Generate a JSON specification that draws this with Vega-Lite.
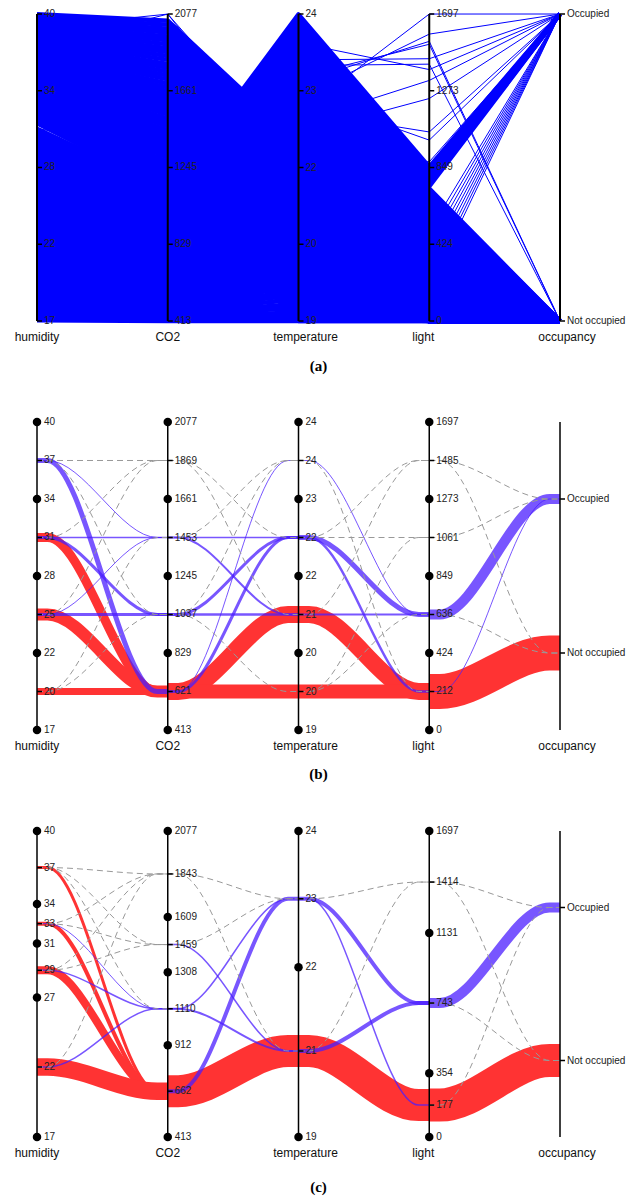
{
"$schema":"https://vega.github.io/schema/vega-lite/v6.json",
"autosize":{"type":"pad"},
"padding":{"left":2,"top":9,"right":2,"bottom":4},
"background":"white",
"config":{"view":{"stroke":null},"font":"Liberation Sans"},
"bounds":"flush",
"spacing":101,
"datasets":{
"scA":[{"key":"h","ax":0,"lo":16.745,"hi":39.5},{"key":"c","ax":1,"lo":412.75,"hi":2076.5},{"key":"t","ax":2,"lo":19,"hi":24.408},{"key":"l","ax":3,"lo":0,"hi":1697.25},{"key":"o","ax":4,"lo":0,"hi":1}],
"sc":[{"key":"h","ax":0,"lo":16.745,"hi":39.5,"name":"humidity"},{"key":"c","ax":1,"lo":412.75,"hi":2076.5,"name":"CO2"},{"key":"t","ax":2,"lo":19,"hi":24.408,"name":"temperature"},{"key":"l","ax":3,"lo":0,"hi":1697.25,"name":"light"},{"key":"o","ax":4,"lo":-0.5,"hi":1.5,"name":"occupancy"}],
"ticks":[
{"p":"a","ax":0,"v":16.745,"lab":"17","dot":false},{"p":"a","ax":0,"v":22.434,"lab":"22","dot":false},{"p":"a","ax":0,"v":28.123,"lab":"28","dot":false},{"p":"a","ax":0,"v":33.812,"lab":"34","dot":false},{"p":"a","ax":0,"v":39.5,"lab":"40","dot":false},
{"p":"a","ax":1,"v":412.75,"lab":"413","dot":false},{"p":"a","ax":1,"v":828.69,"lab":"829","dot":false},{"p":"a","ax":1,"v":1244.63,"lab":"1245","dot":false},{"p":"a","ax":1,"v":1660.56,"lab":"1661","dot":false},{"p":"a","ax":1,"v":2076.5,"lab":"2077","dot":false},
{"p":"a","ax":2,"v":19,"lab":"19","dot":false},{"p":"a","ax":2,"v":20.352,"lab":"20","dot":false},{"p":"a","ax":2,"v":21.704,"lab":"22","dot":false},{"p":"a","ax":2,"v":23.056,"lab":"23","dot":false},{"p":"a","ax":2,"v":24.408,"lab":"24","dot":false},
{"p":"a","ax":3,"v":0,"lab":"0","dot":false},{"p":"a","ax":3,"v":424.31,"lab":"424","dot":false},{"p":"a","ax":3,"v":848.63,"lab":"849","dot":false},{"p":"a","ax":3,"v":1272.94,"lab":"1273","dot":false},{"p":"a","ax":3,"v":1697.25,"lab":"1697","dot":false},
{"p":"a","ax":4,"v":1,"lab":"Occupied","dot":false},{"p":"a","ax":4,"v":0,"lab":"Not occupied","dot":false},
{"p":"b","ax":0,"v":16.745,"lab":"17","dot":true},{"p":"b","ax":0,"v":19.589,"lab":"20","dot":false},{"p":"b","ax":0,"v":22.434,"lab":"22","dot":true},{"p":"b","ax":0,"v":25.278,"lab":"25","dot":false},{"p":"b","ax":0,"v":28.123,"lab":"28","dot":true},{"p":"b","ax":0,"v":30.967,"lab":"31","dot":false},{"p":"b","ax":0,"v":33.812,"lab":"34","dot":true},{"p":"b","ax":0,"v":36.656,"lab":"37","dot":false},{"p":"b","ax":0,"v":39.5,"lab":"40","dot":true},
{"p":"b","ax":1,"v":412.75,"lab":"413","dot":true},{"p":"b","ax":1,"v":620.72,"lab":"621","dot":false},{"p":"b","ax":1,"v":828.69,"lab":"829","dot":true},{"p":"b","ax":1,"v":1036.66,"lab":"1037","dot":false},{"p":"b","ax":1,"v":1244.63,"lab":"1245","dot":true},{"p":"b","ax":1,"v":1452.59,"lab":"1453","dot":false},{"p":"b","ax":1,"v":1660.56,"lab":"1661","dot":true},{"p":"b","ax":1,"v":1868.53,"lab":"1869","dot":false},{"p":"b","ax":1,"v":2076.5,"lab":"2077","dot":true},
{"p":"b","ax":2,"v":19,"lab":"19","dot":true},{"p":"b","ax":2,"v":19.676,"lab":"20","dot":false},{"p":"b","ax":2,"v":20.352,"lab":"20","dot":true},{"p":"b","ax":2,"v":21.028,"lab":"21","dot":false},{"p":"b","ax":2,"v":21.704,"lab":"22","dot":true},{"p":"b","ax":2,"v":22.38,"lab":"22","dot":false},{"p":"b","ax":2,"v":23.056,"lab":"23","dot":true},{"p":"b","ax":2,"v":23.732,"lab":"24","dot":false},{"p":"b","ax":2,"v":24.408,"lab":"24","dot":true},
{"p":"b","ax":3,"v":0,"lab":"0","dot":true},{"p":"b","ax":3,"v":212.16,"lab":"212","dot":false},{"p":"b","ax":3,"v":424.31,"lab":"424","dot":true},{"p":"b","ax":3,"v":636.47,"lab":"636","dot":false},{"p":"b","ax":3,"v":848.63,"lab":"849","dot":true},{"p":"b","ax":3,"v":1060.78,"lab":"1061","dot":false},{"p":"b","ax":3,"v":1272.94,"lab":"1273","dot":true},{"p":"b","ax":3,"v":1485.09,"lab":"1485","dot":false},{"p":"b","ax":3,"v":1697.25,"lab":"1697","dot":true},
{"p":"b","ax":4,"v":1,"lab":"Occupied","dot":false},{"p":"b","ax":4,"v":0,"lab":"Not occupied","dot":false},
{"p":"c","ax":0,"v":16.745,"lab":"17","dot":true},{"p":"c","ax":0,"v":21.95,"lab":"22","dot":false},{"p":"c","ax":0,"v":27.11,"lab":"27","dot":true},{"p":"c","ax":0,"v":29.14,"lab":"29","dot":false},{"p":"c","ax":0,"v":31.13,"lab":"31","dot":true},{"p":"c","ax":0,"v":32.61,"lab":"33","dot":false},{"p":"c","ax":0,"v":34.07,"lab":"34","dot":true},{"p":"c","ax":0,"v":36.78,"lab":"37","dot":false},{"p":"c","ax":0,"v":39.5,"lab":"40","dot":true},
{"p":"c","ax":1,"v":412.75,"lab":"413","dot":true},{"p":"c","ax":1,"v":662,"lab":"662","dot":false},{"p":"c","ax":1,"v":912,"lab":"912","dot":true},{"p":"c","ax":1,"v":1110,"lab":"1110","dot":false},{"p":"c","ax":1,"v":1308,"lab":"1308","dot":true},{"p":"c","ax":1,"v":1459,"lab":"1459","dot":false},{"p":"c","ax":1,"v":1609,"lab":"1609","dot":true},{"p":"c","ax":1,"v":1843,"lab":"1843","dot":false},{"p":"c","ax":1,"v":2076.5,"lab":"2077","dot":true},
{"p":"c","ax":2,"v":19,"lab":"19","dot":true},{"p":"c","ax":2,"v":20.52,"lab":"21","dot":false},{"p":"c","ax":2,"v":22.0,"lab":"22","dot":true},{"p":"c","ax":2,"v":23.21,"lab":"23","dot":false},{"p":"c","ax":2,"v":24.408,"lab":"24","dot":true},
{"p":"c","ax":3,"v":0,"lab":"0","dot":true},{"p":"c","ax":3,"v":177,"lab":"177","dot":false},{"p":"c","ax":3,"v":354,"lab":"354","dot":true},{"p":"c","ax":3,"v":743,"lab":"743","dot":false},{"p":"c","ax":3,"v":1131,"lab":"1131","dot":true},{"p":"c","ax":3,"v":1414,"lab":"1414","dot":false},{"p":"c","ax":3,"v":1697.25,"lab":"1697","dot":true},
{"p":"c","ax":4,"v":1,"lab":"Occupied","dot":false},{"p":"c","ax":4,"v":0,"lab":"Not occupied","dot":false}
],
"flows":[
{"p":"b","a":0,"v0":36.656,"v1":620.72,"n":200,"k":"occ"},
{"p":"b","a":0,"v0":36.656,"v1":1452.59,"n":40,"k":"occ"},
{"p":"b","a":0,"v0":30.967,"v1":1036.66,"n":120,"k":"occ"},
{"p":"b","a":0,"v0":30.967,"v1":1452.59,"n":60,"k":"occ"},
{"p":"b","a":0,"v0":25.278,"v1":1036.66,"n":120,"k":"occ"},
{"p":"b","a":0,"v0":25.278,"v1":1452.59,"n":40,"k":"occ"},
{"p":"b","a":0,"v0":30.967,"v1":620.72,"n":360,"k":"not"},
{"p":"b","a":0,"v0":25.278,"v1":620.72,"n":480,"k":"not"},
{"p":"b","a":0,"v0":19.589,"v1":620.72,"n":280,"k":"not"},
{"p":"b","a":0,"v0":36.656,"v1":1868.53,"k":"other"},
{"p":"b","a":0,"v0":36.656,"v1":1036.66,"k":"other"},
{"p":"b","a":0,"v0":30.967,"v1":1868.53,"k":"other"},
{"p":"b","a":0,"v0":25.278,"v1":1868.53,"k":"other"},
{"p":"b","a":0,"v0":19.589,"v1":1452.59,"k":"other"},
{"p":"b","a":0,"v0":19.589,"v1":1036.66,"k":"other"},
{"p":"b","a":1,"v0":1452.59,"v1":22.38,"n":60,"k":"occ"},
{"p":"b","a":1,"v0":1452.59,"v1":21.028,"n":80,"k":"occ"},
{"p":"b","a":1,"v0":1036.66,"v1":22.38,"n":120,"k":"occ"},
{"p":"b","a":1,"v0":1036.66,"v1":21.028,"n":100,"k":"occ"},
{"p":"b","a":1,"v0":620.72,"v1":22.38,"n":120,"k":"occ"},
{"p":"b","a":1,"v0":620.72,"v1":23.732,"n":40,"k":"occ"},
{"p":"b","a":1,"v0":620.72,"v1":21.028,"n":680,"k":"not"},
{"p":"b","a":1,"v0":620.72,"v1":19.676,"n":560,"k":"not"},
{"p":"b","a":1,"v0":1868.53,"v1":22.38,"k":"other"},
{"p":"b","a":1,"v0":1868.53,"v1":21.028,"k":"other"},
{"p":"b","a":1,"v0":1452.59,"v1":23.732,"k":"other"},
{"p":"b","a":1,"v0":1036.66,"v1":23.732,"k":"other"},
{"p":"b","a":1,"v0":1036.66,"v1":19.676,"k":"other"},
{"p":"b","a":2,"v0":23.732,"v1":636.47,"n":40,"k":"occ"},
{"p":"b","a":2,"v0":22.38,"v1":636.47,"n":200,"k":"occ"},
{"p":"b","a":2,"v0":22.38,"v1":212.16,"n":100,"k":"occ"},
{"p":"b","a":2,"v0":21.028,"v1":636.47,"n":80,"k":"occ"},
{"p":"b","a":2,"v0":21.028,"v1":212.16,"n":680,"k":"not"},
{"p":"b","a":2,"v0":19.676,"v1":212.16,"n":560,"k":"not"},
{"p":"b","a":2,"v0":23.732,"v1":212.16,"k":"other"},
{"p":"b","a":2,"v0":22.38,"v1":1485.09,"k":"other"},
{"p":"b","a":2,"v0":22.38,"v1":1060.78,"k":"other"},
{"p":"b","a":2,"v0":21.028,"v1":1485.09,"k":"other"},
{"p":"b","a":2,"v0":19.676,"v1":1060.78,"k":"other"},
{"p":"b","a":2,"v0":19.676,"v1":636.47,"k":"other"},
{"p":"b","a":3,"v0":636.47,"v1":1,"n":400,"k":"occ"},
{"p":"b","a":3,"v0":212.16,"v1":1,"n":40,"k":"occ"},
{"p":"b","a":3,"v0":212.16,"v1":0,"n":1400,"k":"not"},
{"p":"b","a":3,"v0":1485.09,"v1":1,"k":"other"},
{"p":"b","a":3,"v0":1485.09,"v1":0,"k":"other"},
{"p":"b","a":3,"v0":1060.78,"v1":1,"k":"other"},
{"p":"b","a":3,"v0":636.47,"v1":0,"k":"other"},
{"p":"c","a":0,"v0":32.61,"v1":1110,"n":40,"k":"occ"},
{"p":"c","a":0,"v0":29.14,"v1":1110,"n":60,"k":"occ"},
{"p":"c","a":0,"v0":21.95,"v1":1110,"n":60,"k":"occ"},
{"p":"c","a":0,"v0":36.78,"v1":662,"n":120,"k":"not"},
{"p":"c","a":0,"v0":32.61,"v1":662,"n":160,"k":"not"},
{"p":"c","a":0,"v0":29.14,"v1":662,"n":320,"k":"not"},
{"p":"c","a":0,"v0":21.95,"v1":662,"n":700,"k":"not"},
{"p":"c","a":0,"v0":36.78,"v1":1843,"k":"other"},
{"p":"c","a":0,"v0":36.78,"v1":1459,"k":"other"},
{"p":"c","a":0,"v0":36.78,"v1":1110,"k":"other"},
{"p":"c","a":0,"v0":32.61,"v1":1843,"k":"other"},
{"p":"c","a":0,"v0":32.61,"v1":1459,"k":"other"},
{"p":"c","a":0,"v0":29.14,"v1":1843,"k":"other"},
{"p":"c","a":0,"v0":29.14,"v1":1459,"k":"other"},
{"p":"c","a":0,"v0":21.95,"v1":1843,"k":"other"},
{"p":"c","a":1,"v0":1459,"v1":20.52,"n":60,"k":"occ"},
{"p":"c","a":1,"v0":1110,"v1":23.21,"n":60,"k":"occ"},
{"p":"c","a":1,"v0":1110,"v1":20.52,"n":80,"k":"occ"},
{"p":"c","a":1,"v0":662,"v1":23.21,"n":160,"k":"occ"},
{"p":"c","a":1,"v0":662,"v1":20.52,"n":1280,"k":"not"},
{"p":"c","a":1,"v0":1843,"v1":23.21,"k":"other"},
{"p":"c","a":1,"v0":1843,"v1":20.52,"k":"other"},
{"p":"c","a":1,"v0":1459,"v1":23.21,"k":"other"},
{"p":"c","a":2,"v0":23.21,"v1":743,"n":160,"k":"occ"},
{"p":"c","a":2,"v0":23.21,"v1":177,"n":60,"k":"occ"},
{"p":"c","a":2,"v0":20.52,"v1":743,"n":160,"k":"occ"},
{"p":"c","a":2,"v0":20.52,"v1":177,"n":1280,"k":"not"},
{"p":"c","a":2,"v0":23.21,"v1":1414,"k":"other"},
{"p":"c","a":2,"v0":20.52,"v1":1414,"k":"other"},
{"p":"c","a":3,"v0":743,"v1":1,"n":400,"k":"occ"},
{"p":"c","a":3,"v0":177,"v1":0,"n":1320,"k":"not"},
{"p":"c","a":3,"v0":1414,"v1":1,"k":"other"},
{"p":"c","a":3,"v0":1414,"v1":0,"k":"other"},
{"p":"c","a":3,"v0":743,"v1":0,"k":"other"},
{"p":"c","a":3,"v0":177,"v1":1,"k":"other"}
],
"rowsA":[
{"id":1,"h":16.8,"c":413,"t":19.0,"l":0,"o":0},{"id":2,"h":17.0,"c":423,"t":19.08,"l":12,"o":0},{"id":3,"h":17.2,"c":433,"t":19.15,"l":24,"o":0},{"id":4,"h":17.4,"c":443,"t":19.23,"l":36,"o":0},{"id":5,"h":17.6,"c":453,"t":19.3,"l":48,"o":0},{"id":6,"h":17.8,"c":463,"t":19.38,"l":60,"o":0},{"id":7,"h":18.0,"c":473,"t":19.46,"l":72,"o":0},{"id":8,"h":18.2,"c":483,"t":19.53,"l":84,"o":0},{"id":9,"h":18.4,"c":493,"t":19.61,"l":96,"o":0},{"id":10,"h":18.6,"c":503,"t":19.68,"l":108,"o":0},
{"id":11,"h":18.8,"c":513,"t":19.76,"l":120,"o":0},{"id":12,"h":19.0,"c":523,"t":19.84,"l":132,"o":0},{"id":13,"h":19.2,"c":533,"t":19.91,"l":144,"o":0},{"id":14,"h":19.4,"c":543,"t":19.99,"l":156,"o":0},{"id":15,"h":19.6,"c":553,"t":20.06,"l":168,"o":0},{"id":16,"h":19.8,"c":563,"t":20.14,"l":180,"o":0},{"id":17,"h":20.0,"c":573,"t":20.22,"l":192,"o":0},{"id":18,"h":20.2,"c":583,"t":20.29,"l":204,"o":0},{"id":19,"h":20.4,"c":593,"t":20.37,"l":216,"o":0},{"id":20,"h":20.6,"c":603,"t":20.44,"l":228,"o":0},
{"id":21,"h":20.8,"c":613,"t":20.52,"l":240,"o":0},{"id":22,"h":21.0,"c":623,"t":20.6,"l":252,"o":0},{"id":23,"h":21.2,"c":633,"t":20.67,"l":264,"o":0},{"id":24,"h":21.4,"c":643,"t":20.75,"l":276,"o":0},{"id":25,"h":21.6,"c":653,"t":20.82,"l":288,"o":0},{"id":26,"h":21.8,"c":663,"t":20.9,"l":300,"o":0},{"id":27,"h":22.0,"c":673,"t":20.98,"l":312,"o":0},{"id":28,"h":22.2,"c":683,"t":21.05,"l":324,"o":0},{"id":29,"h":22.4,"c":693,"t":21.13,"l":336,"o":0},{"id":30,"h":22.6,"c":703,"t":21.2,"l":348,"o":0},
{"id":31,"h":22.8,"c":713,"t":21.28,"l":360,"o":0},{"id":32,"h":23.0,"c":723,"t":21.36,"l":372,"o":0},{"id":33,"h":23.2,"c":733,"t":21.43,"l":384,"o":0},{"id":34,"h":23.4,"c":743,"t":21.51,"l":396,"o":0},{"id":35,"h":23.6,"c":753,"t":21.58,"l":408,"o":0},{"id":36,"h":23.8,"c":763,"t":21.66,"l":420,"o":0},{"id":37,"h":24.0,"c":773,"t":21.74,"l":432,"o":0},{"id":38,"h":24.2,"c":783,"t":21.81,"l":444,"o":0},{"id":39,"h":24.4,"c":793,"t":21.89,"l":456,"o":0},{"id":40,"h":24.6,"c":803,"t":21.96,"l":468,"o":0},
{"id":41,"h":24.8,"c":813,"t":22.04,"l":480,"o":0},{"id":42,"h":25.0,"c":823,"t":22.12,"l":492,"o":0},{"id":43,"h":25.2,"c":833,"t":22.19,"l":504,"o":0},{"id":44,"h":25.4,"c":843,"t":22.27,"l":516,"o":0},{"id":45,"h":25.6,"c":853,"t":22.34,"l":528,"o":0},{"id":46,"h":25.8,"c":863,"t":22.42,"l":540,"o":0},{"id":47,"h":26.0,"c":873,"t":22.5,"l":552,"o":0},{"id":48,"h":26.2,"c":883,"t":22.57,"l":564,"o":0},{"id":49,"h":26.4,"c":893,"t":22.65,"l":576,"o":0},{"id":50,"h":26.6,"c":903,"t":22.72,"l":588,"o":0},
{"id":51,"h":26.8,"c":913,"t":22.8,"l":600,"o":0},{"id":52,"h":27.0,"c":923,"t":22.88,"l":612,"o":0},{"id":53,"h":27.2,"c":933,"t":22.95,"l":624,"o":0},{"id":54,"h":27.4,"c":943,"t":23.03,"l":636,"o":0},{"id":55,"h":27.6,"c":953,"t":23.1,"l":648,"o":0},{"id":56,"h":27.8,"c":963,"t":23.18,"l":660,"o":0},{"id":57,"h":28.0,"c":973,"t":23.26,"l":672,"o":0},{"id":58,"h":28.2,"c":983,"t":23.33,"l":684,"o":0},{"id":59,"h":28.4,"c":993,"t":23.41,"l":696,"o":0},{"id":60,"h":28.6,"c":1003,"t":23.48,"l":708,"o":0},
{"id":61,"h":28.8,"c":1013,"t":23.56,"l":720,"o":0},{"id":62,"h":29.0,"c":1023,"t":23.64,"l":732,"o":0},{"id":63,"h":29.2,"c":1033,"t":23.71,"l":744,"o":1},{"id":64,"h":29.4,"c":1043,"t":23.79,"l":756,"o":1},{"id":65,"h":29.6,"c":1053,"t":23.86,"l":768,"o":1},{"id":66,"h":29.8,"c":1063,"t":23.94,"l":780,"o":1},{"id":67,"h":30.0,"c":1073,"t":24.02,"l":792,"o":1},{"id":68,"h":30.2,"c":1083,"t":24.09,"l":804,"o":1},{"id":69,"h":30.4,"c":1093,"t":24.17,"l":816,"o":1},{"id":70,"h":30.6,"c":1103,"t":24.24,"l":828,"o":1},
{"id":71,"h":30.8,"c":1113,"t":24.32,"l":840,"o":1},{"id":72,"h":31.0,"c":1123,"t":24.4,"l":852,"o":1},
{"id":101,"h":31.4,"c":1128,"t":19.0,"l":0,"o":0},{"id":102,"h":31.59,"c":1149,"t":19.07,"l":0,"o":0},{"id":103,"h":31.78,"c":1170,"t":19.15,"l":0,"o":0},{"id":104,"h":31.96,"c":1192,"t":19.22,"l":0,"o":0},{"id":105,"h":32.15,"c":1213,"t":19.29,"l":0,"o":0},{"id":106,"h":32.34,"c":1234,"t":19.37,"l":0,"o":0},{"id":107,"h":32.53,"c":1255,"t":19.44,"l":0,"o":0},{"id":108,"h":32.72,"c":1276,"t":19.51,"l":0,"o":0},{"id":109,"h":32.9,"c":1298,"t":19.58,"l":0,"o":0},{"id":110,"h":33.09,"c":1319,"t":19.66,"l":0,"o":0},
{"id":111,"h":33.28,"c":1340,"t":19.73,"l":0,"o":0},{"id":112,"h":33.47,"c":1361,"t":19.8,"l":0,"o":0},{"id":113,"h":33.66,"c":1382,"t":19.88,"l":0,"o":0},{"id":114,"h":33.84,"c":1404,"t":19.95,"l":0,"o":0},{"id":115,"h":34.03,"c":1425,"t":20.02,"l":0,"o":0},{"id":116,"h":34.22,"c":1446,"t":20.1,"l":0,"o":0},{"id":117,"h":34.41,"c":1467,"t":20.17,"l":0,"o":0},{"id":118,"h":34.6,"c":1488,"t":20.24,"l":0,"o":0},{"id":119,"h":34.78,"c":1510,"t":20.31,"l":0,"o":0},{"id":120,"h":34.97,"c":1531,"t":20.39,"l":0,"o":0},
{"id":121,"h":35.16,"c":1552,"t":20.46,"l":0,"o":0},{"id":122,"h":35.35,"c":1573,"t":20.53,"l":0,"o":0},{"id":123,"h":35.54,"c":1594,"t":20.61,"l":0,"o":0},{"id":124,"h":35.72,"c":1616,"t":20.68,"l":0,"o":0},{"id":125,"h":35.91,"c":1637,"t":20.75,"l":0,"o":0},{"id":126,"h":36.1,"c":1658,"t":20.83,"l":0,"o":0},{"id":127,"h":36.29,"c":1679,"t":20.9,"l":0,"o":0},{"id":128,"h":36.48,"c":1700,"t":20.97,"l":0,"o":0},{"id":129,"h":36.66,"c":1722,"t":21.04,"l":0,"o":0},{"id":130,"h":36.85,"c":1743,"t":21.12,"l":0,"o":0},
{"id":131,"h":37.04,"c":1764,"t":21.19,"l":0,"o":0},{"id":132,"h":37.23,"c":1785,"t":21.26,"l":0,"o":0},{"id":133,"h":37.42,"c":1806,"t":21.34,"l":0,"o":0},{"id":134,"h":37.6,"c":1828,"t":21.41,"l":0,"o":0},{"id":135,"h":37.79,"c":1849,"t":21.48,"l":0,"o":0},{"id":136,"h":37.98,"c":1870,"t":21.56,"l":0,"o":0},{"id":137,"h":38.17,"c":1891,"t":21.63,"l":0,"o":0},{"id":138,"h":38.36,"c":1912,"t":21.7,"l":0,"o":0},{"id":139,"h":38.54,"c":1934,"t":21.77,"l":0,"o":0},{"id":140,"h":38.73,"c":1955,"t":21.85,"l":0,"o":0},
{"id":141,"h":38.92,"c":1976,"t":21.92,"l":0,"o":0},{"id":142,"h":39.11,"c":1997,"t":21.99,"l":0,"o":0},{"id":143,"h":39.3,"c":2018,"t":22.07,"l":0,"o":0},{"id":144,"h":39.48,"c":2040,"t":22.14,"l":0,"o":0}
],
"outA":[
{"id":201,"h":27,"c":1100,"t":22.65,"l":1697,"o":1},{"id":202,"h":30,"c":1300,"t":22.93,"l":1586,"o":1},{"id":203,"h":25,"c":1000,"t":23.2,"l":1546,"o":0},{"id":204,"h":28,"c":1200,"t":23.3,"l":1530,"o":0},{"id":205,"h":33,"c":1400,"t":23.6,"l":1450,"o":1},{"id":206,"h":24,"c":900,"t":23.9,"l":1390,"o":1},{"id":207,"h":22,"c":800,"t":22.3,"l":1230,"o":1},{"id":208,"h":35,"c":1500,"t":22.7,"l":1045,"o":1},{"id":209,"h":20,"c":700,"t":23.0,"l":1000,"o":1},{"id":210,"h":26,"c":950,"t":22.0,"l":880,"o":1},{"id":211,"h":38.5,"c":2076,"t":21.5,"l":0,"o":0},{"id":212,"h":37,"c":2076,"t":21.8,"l":500,"o":1},{"id":213,"h":31,"c":1350,"t":23.5,"l":1420,"o":0},{"id":214,"h":29,"c":1150,"t":22.5,"l":1330,"o":1},
{"id":215,"h":33,"c":1250,"t":21.0,"l":180,"o":1},{"id":216,"h":25,"c":850,"t":22.2,"l":220,"o":1},{"id":217,"h":36,"c":1700,"t":21.3,"l":260,"o":1},{"id":218,"h":21,"c":650,"t":22.8,"l":300,"o":1},{"id":219,"h":28,"c":1050,"t":21.9,"l":340,"o":1},{"id":220,"h":34,"c":1450,"t":21.6,"l":380,"o":1},{"id":221,"h":23,"c":760,"t":22.5,"l":420,"o":1},{"id":222,"h":30,"c":1150,"t":22.1,"l":460,"o":1}
]
},
"vconcat":[
{
"width":523,"height":307,
"title":{"text":"(a)","orient":"bottom","frame":"group","anchor":"middle","dx":20,"offset":16,"font":"Liberation Serif","fontSize":15,"fontWeight":"bold","color":"#000"},
"layer":[
{"data":{"name":"rowsA"},
 "transform":[{"fold":["h","c","t","l","o"],"as":["key","v"]},{"lookup":"key","from":{"data":{"name":"scA"},"key":"key","fields":["ax","lo","hi"]}},{"calculate":"(datum.v - datum.lo) / (datum.hi - datum.lo)","as":"y"}],
 "mark":{"type":"line","color":"#0000ff","strokeWidth":4.5,"strokeJoin":"round"},
 "encoding":{"x":{"field":"ax","type":"quantitative","scale":{"domain":[0,4],"nice":false,"zero":false},"axis":null},"y":{"field":"y","type":"quantitative","scale":{"domain":[0,1],"nice":false,"zero":false},"axis":null},"detail":{"field":"id","type":"nominal"}}},
{"data":{"name":"outA"},
 "transform":[{"fold":["h","c","t","l","o"],"as":["key","v"]},{"lookup":"key","from":{"data":{"name":"scA"},"key":"key","fields":["ax","lo","hi"]}},{"calculate":"(datum.v - datum.lo) / (datum.hi - datum.lo)","as":"y"}],
 "mark":{"type":"line","color":"#0000ff","strokeWidth":1},
 "encoding":{"x":{"field":"ax","type":"quantitative","axis":null},"y":{"field":"y","type":"quantitative","axis":null},"detail":{"field":"id","type":"nominal"}}},
{"data":{"name":"sc"},
 "encoding":{"x":{"field":"ax","type":"quantitative","axis":null},"y":{"datum":0,"type":"quantitative","axis":null}},
 "layer":[
  {"mark":{"type":"rule","color":"#000","strokeWidth":2},"encoding":{"y2":{"datum":1}}},
  {"transform":[{"filter":"datum.ax <= 1"}],"mark":{"type":"text","align":"center","baseline":"middle","dy":16,"fontSize":12,"font":"Liberation Sans","color":"#111"},"encoding":{"text":{"field":"name"}}},
  {"transform":[{"filter":"datum.ax == 2 || datum.ax == 4"}],"mark":{"type":"text","align":"center","baseline":"middle","dy":16,"dx":7,"fontSize":12,"font":"Liberation Sans","color":"#111"},"encoding":{"text":{"field":"name"}}},
  {"transform":[{"filter":"datum.ax == 3"}],"mark":{"type":"text","align":"center","baseline":"middle","dy":16,"dx":-6,"fontSize":12,"font":"Liberation Sans","color":"#111"},"encoding":{"text":{"field":"name"}}}
 ]},
{"data":{"name":"ticks"},
 "transform":[{"filter":"datum.p == 'a'"},{"lookup":"ax","from":{"data":{"name":"scA"},"key":"ax","fields":["lo","hi"]}},{"calculate":"(datum.v - datum.lo) / (datum.hi - datum.lo)","as":"y"}],
 "encoding":{"x":{"field":"ax","type":"quantitative","axis":null},"y":{"field":"y","type":"quantitative","axis":null}},
 "layer":[
  {"mark":{"type":"point","shape":"M0,0H1","filled":false,"color":"#000","opacity":1,"size":100,"strokeWidth":1.5}},
  {"mark":{"type":"text","align":"left","baseline":"middle","dx":7,"fontSize":10,"font":"Liberation Sans","color":"#222"},"encoding":{"text":{"field":"lab","type":"nominal"}}}
 ]}
]
},
{
"width":523,"height":308,
"title":{"text":"(b)","orient":"bottom","frame":"group","anchor":"middle","dx":20,"offset":6,"font":"Liberation Serif","fontSize":15,"fontWeight":"bold","color":"#000"},
"layer":[
{"data":{"name":"flows"},
 "transform":[{"filter":"datum.p == 'b'"},{"fold":["v0","v1"],"as":["end","v"]},{"calculate":"datum.a + (datum.end == 'v1' ? 1 : 0)","as":"ax"},{"lookup":"ax","from":{"data":{"name":"sc"},"key":"ax","fields":["lo","hi"]}},{"calculate":"(datum.v - datum.lo) / (datum.hi - datum.lo)","as":"y"},{"calculate":"datum.end == 'v0' ? [datum.ax, datum.ax + 0.08] : [datum.ax - 0.08, datum.ax]","as":"xs"},{"flatten":["xs"],"as":["x"]}],
 "encoding":{"x":{"field":"x","type":"quantitative","scale":{"domain":[0,4],"nice":false,"zero":false},"axis":null},"y":{"field":"y","type":"quantitative","scale":{"domain":[0,1],"nice":false,"zero":false},"axis":null},"detail":[{"field":"a","type":"nominal"},{"field":"v0","type":"nominal"},{"field":"v1","type":"nominal"}]},
 "layer":[
  {"transform":[{"filter":"datum.k == 'not'"}],"mark":{"type":"line","interpolate":"monotone","color":"#ff3333"},"encoding":{"size":{"field":"n","type":"quantitative","scale":{"type":"linear","domain":[0,1400],"range":[0,35]},"legend":null}}},
  {"transform":[{"filter":"datum.k == 'occ'"}],"mark":{"type":"line","interpolate":"monotone","color":"#4b1eff","opacity":0.75},"encoding":{"size":{"field":"n","type":"quantitative","scale":{"type":"linear","domain":[0,1400],"range":[0,35]},"legend":null}}},
  {"transform":[{"filter":"datum.k == 'other'"}],"mark":{"type":"line","interpolate":"monotone","color":"#999999","strokeWidth":1,"strokeDash":[6,4]}}
 ]},
{"data":{"name":"sc"},
 "encoding":{"x":{"field":"ax","type":"quantitative","axis":null},"y":{"datum":0,"type":"quantitative","axis":null}},
 "layer":[
  {"mark":{"type":"rule","color":"#000","strokeWidth":1.5},"encoding":{"y2":{"datum":1}}},
  {"transform":[{"filter":"datum.ax <= 1"}],"mark":{"type":"text","align":"center","baseline":"middle","dy":16,"fontSize":12,"font":"Liberation Sans","color":"#111"},"encoding":{"text":{"field":"name"}}},
  {"transform":[{"filter":"datum.ax == 2 || datum.ax == 4"}],"mark":{"type":"text","align":"center","baseline":"middle","dy":16,"dx":7,"fontSize":12,"font":"Liberation Sans","color":"#111"},"encoding":{"text":{"field":"name"}}},
  {"transform":[{"filter":"datum.ax == 3"}],"mark":{"type":"text","align":"center","baseline":"middle","dy":16,"dx":-6,"fontSize":12,"font":"Liberation Sans","color":"#111"},"encoding":{"text":{"field":"name"}}}
 ]},
{"data":{"name":"ticks"},
 "transform":[{"filter":"datum.p == 'b'"},{"lookup":"ax","from":{"data":{"name":"sc"},"key":"ax","fields":["lo","hi"]}},{"calculate":"(datum.v - datum.lo) / (datum.hi - datum.lo)","as":"y"}],
 "encoding":{"x":{"field":"ax","type":"quantitative","axis":null},"y":{"field":"y","type":"quantitative","axis":null}},
 "layer":[
  {"transform":[{"filter":"datum.dot"}],"mark":{"type":"point","shape":"circle","filled":true,"color":"#000","opacity":1,"size":72}},
  {"transform":[{"filter":"!datum.dot"}],"mark":{"type":"point","shape":"M0,0H1","filled":false,"color":"#000","opacity":1,"size":100,"strokeWidth":1.5}},
  {"mark":{"type":"text","align":"left","baseline":"middle","dx":7,"fontSize":10,"font":"Liberation Sans","color":"#222"},"encoding":{"text":{"field":"lab","type":"nominal"}}}
 ]}
]
},
{
"width":523,"height":306,
"title":{"text":"(c)","orient":"bottom","frame":"group","anchor":"middle","dx":20,"offset":9,"font":"Liberation Serif","fontSize":15,"fontWeight":"bold","color":"#000"},
"layer":[
{"data":{"name":"flows"},
 "transform":[{"filter":"datum.p == 'c'"},{"fold":["v0","v1"],"as":["end","v"]},{"calculate":"datum.a + (datum.end == 'v1' ? 1 : 0)","as":"ax"},{"lookup":"ax","from":{"data":{"name":"sc"},"key":"ax","fields":["lo","hi"]}},{"calculate":"(datum.v - datum.lo) / (datum.hi - datum.lo)","as":"y"},{"calculate":"datum.end == 'v0' ? [datum.ax, datum.ax + 0.08] : [datum.ax - 0.08, datum.ax]","as":"xs"},{"flatten":["xs"],"as":["x"]}],
 "encoding":{"x":{"field":"x","type":"quantitative","scale":{"domain":[0,4],"nice":false,"zero":false},"axis":null},"y":{"field":"y","type":"quantitative","scale":{"domain":[0,1],"nice":false,"zero":false},"axis":null},"detail":[{"field":"a","type":"nominal"},{"field":"v0","type":"nominal"},{"field":"v1","type":"nominal"}]},
 "layer":[
  {"transform":[{"filter":"datum.k == 'not'"}],"mark":{"type":"line","interpolate":"monotone","color":"#ff3333"},"encoding":{"size":{"field":"n","type":"quantitative","scale":{"type":"linear","domain":[0,1400],"range":[0,35]},"legend":null}}},
  {"transform":[{"filter":"datum.k == 'occ'"}],"mark":{"type":"line","interpolate":"monotone","color":"#4b1eff","opacity":0.75},"encoding":{"size":{"field":"n","type":"quantitative","scale":{"type":"linear","domain":[0,1400],"range":[0,35]},"legend":null}}},
  {"transform":[{"filter":"datum.k == 'other'"}],"mark":{"type":"line","interpolate":"monotone","color":"#999999","strokeWidth":1,"strokeDash":[6,4]}}
 ]},
{"data":{"name":"sc"},
 "encoding":{"x":{"field":"ax","type":"quantitative","axis":null},"y":{"datum":0,"type":"quantitative","axis":null}},
 "layer":[
  {"mark":{"type":"rule","color":"#000","strokeWidth":1.5},"encoding":{"y2":{"datum":1}}},
  {"transform":[{"filter":"datum.ax <= 1"}],"mark":{"type":"text","align":"center","baseline":"middle","dy":16,"fontSize":12,"font":"Liberation Sans","color":"#111"},"encoding":{"text":{"field":"name"}}},
  {"transform":[{"filter":"datum.ax == 2 || datum.ax == 4"}],"mark":{"type":"text","align":"center","baseline":"middle","dy":16,"dx":7,"fontSize":12,"font":"Liberation Sans","color":"#111"},"encoding":{"text":{"field":"name"}}},
  {"transform":[{"filter":"datum.ax == 3"}],"mark":{"type":"text","align":"center","baseline":"middle","dy":16,"dx":-6,"fontSize":12,"font":"Liberation Sans","color":"#111"},"encoding":{"text":{"field":"name"}}}
 ]},
{"data":{"name":"ticks"},
 "transform":[{"filter":"datum.p == 'c'"},{"lookup":"ax","from":{"data":{"name":"sc"},"key":"ax","fields":["lo","hi"]}},{"calculate":"(datum.v - datum.lo) / (datum.hi - datum.lo)","as":"y"}],
 "encoding":{"x":{"field":"ax","type":"quantitative","axis":null},"y":{"field":"y","type":"quantitative","axis":null}},
 "layer":[
  {"transform":[{"filter":"datum.dot"}],"mark":{"type":"point","shape":"circle","filled":true,"color":"#000","opacity":1,"size":72}},
  {"transform":[{"filter":"!datum.dot"}],"mark":{"type":"point","shape":"M0,0H1","filled":false,"color":"#000","opacity":1,"size":100,"strokeWidth":1.5}},
  {"mark":{"type":"text","align":"left","baseline":"middle","dx":7,"fontSize":10,"font":"Liberation Sans","color":"#222"},"encoding":{"text":{"field":"lab","type":"nominal"}}}
 ]}
]
}
]
}
